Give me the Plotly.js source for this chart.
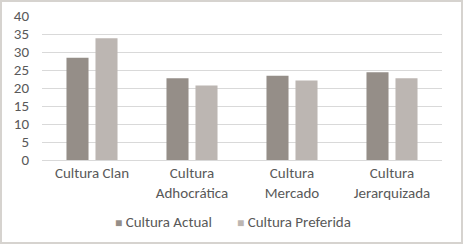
<!DOCTYPE html>
<html>
<head>
<meta charset="utf-8">
<script src="https://cdn.plot.ly/plotly-3.0.1.min.js"></script>
<style>
html,body{margin:0;padding:0;background:#fff;}
#frame{width:463px;height:244px;box-sizing:border-box;border:2px solid #d6d3cf;background:#fff;}
#chart{width:459px;height:240px;}
</style>
</head>
<body>
<div id="frame"><div id="chart"></div></div>
<script>
const categories = ["Cultura Clan", "Cultura<br>Adhocrática", "Cultura<br>Mercado", "Cultura<br>Jerarquizada"];
const actual = [28.4, 22.7, 23.4, 24.4];
const preferida = [33.8, 20.7, 22.1, 22.7];
const seriesNames = ["Cultura Actual", "Cultura Preferida"];
const seriesColors = ["#958e88", "#bcb6b2"];
const yTicks = [0, 5, 10, 15, 20, 25, 30, 35, 40];

const font = "Carlito, Calibri, 'Open Sans', 'Noto Sans', sans-serif";
const data = [
  {type: "bar", x: categories, y: actual, name: seriesNames[0], marker: {color: seriesColors[0]}, showlegend: false},
  {type: "bar", x: categories, y: preferida, name: seriesNames[1], marker: {color: seriesColors[1]}, showlegend: false}
];
const legendX = [0.304, 0.63];
const annotations = seriesNames.map((n, i) => ({
  xref: "paper", yref: "paper", x: legendX[i], y: -0.43, xanchor: "center", yanchor: "middle",
  showarrow: false, font: {family: font, size: 15, color: "#595959"},
  text: '<span style="color:' + seriesColors[i] + ';font-size:12px">■</span> ' + n
}));
const layout = {
  width: 459, height: 240,
  margin: {l: 40, r: 19, t: 14, b: 82},
  paper_bgcolor: "#fff", plot_bgcolor: "#fff",
  barmode: "group", bargap: 0.42, bargroupgap: 0.24,
  font: {family: font, size: 15, color: "#595959"},
  xaxis: {showgrid: false, showline: false, ticks: "", ticklabelstandoff: 2, tickfont: {size: 15, color: "#595959"}, automargin: false},
  yaxis: {range: [0, 40], tickvals: yTicks, showgrid: true, gridcolor: "#d9d9d9", gridwidth: 1,
          zeroline: true, zerolinecolor: "#d9d9d9", zerolinewidth: 1, showline: false, ticks: "",
          ticklabelstandoff: 12, tickfont: {size: 15, color: "#595959"}, automargin: false},
  showlegend: false,
  annotations: annotations
};
Plotly.newPlot("chart", data, layout, {displayModeBar: false, staticPlot: true});
</script>
</body>
</html>
